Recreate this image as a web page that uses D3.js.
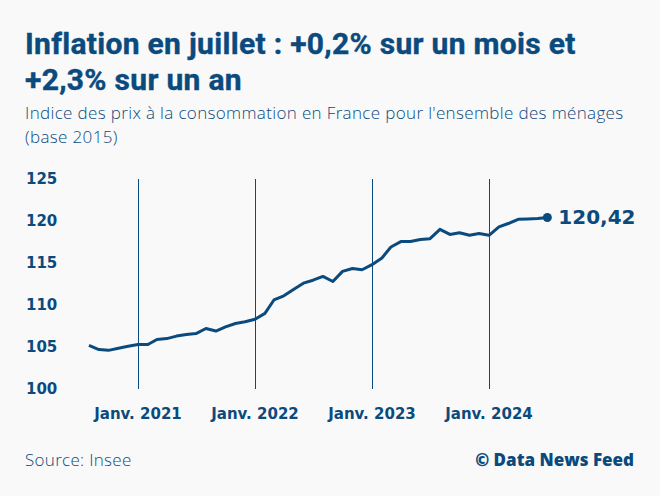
<!DOCTYPE html>
<html>
<head>
<meta charset="utf-8">
<script src="https://cdn.jsdelivr.net/npm/d3@7"></script>
<style>
  body { margin: 0; background: #f9f9f9; }
  svg { display: block; }
</style>
</head>
<body>
<div id="container"></div>
<script>
// monthly consumer price index, base 2015, Aug 2020 -> Jul 2024
var months = d3.timeMonths(new Date(2020, 7, 1), new Date(2024, 7, 1));
var values = [
    105.2, 104.7, 104.6, 104.85, 105.1,
    105.3, 105.3, 105.9, 106.0, 106.3, 106.5, 106.6, 107.2, 106.9, 107.4, 107.8, 108.0,
    108.3, 109.0, 110.6, 111.1, 111.85, 112.6, 112.95, 113.4, 112.8, 114.0, 114.35, 114.2,
    114.8, 115.6, 116.9, 117.55, 117.55, 117.8, 117.9, 119.0, 118.4, 118.6, 118.3, 118.5,
    118.3, 119.3, 119.7, 120.2, 120.25, 120.3, 120.42
];
var yTicks = [100, 105, 110, 115, 120, 125];
var januaries = [new Date(2021, 0, 1), new Date(2022, 0, 1), new Date(2023, 0, 1), new Date(2024, 0, 1)];
var janLabels = ["Janv. 2021", "Janv. 2022", "Janv. 2023", "Janv. 2024"];
var lastLabel = "120,42";

var width = 660;
var height = 496;
var blue = "#0b4a7d";

var svg = d3.select("#container")
    .append("svg")
    .attr("width", width)
    .attr("height", height);

svg.append("rect")
    .attr("width", width)
    .attr("height", height)
    .attr("fill", "#f9f9f9");

// titles
var title = svg.append("text")
    .attr("fill", blue)
    .attr("font-family", "Roboto")
    .attr("font-weight", 700)
    .attr("font-size", 30)
    .attr("letter-spacing", 0.3)
    .attr("stroke", blue)
    .attr("stroke-width", 0.4);
title.append("tspan").attr("x", 25).attr("y", 54).text("Inflation en juillet : +0,2% sur un mois et");
title.append("tspan").attr("x", 25).attr("y", 90).text("+2,3% sur un an");

var sub = svg.append("text")
    .attr("fill", blue)
    .attr("font-family", "Open Sans")
    .attr("font-weight", 300)
    .attr("font-size", 17)
    .attr("letter-spacing", 0.35);
sub.append("tspan").attr("x", 25).attr("y", 119).text("Indice des prix à la consommation en France pour l'ensemble des ménages");
sub.append("tspan").attr("x", 25).attr("y", 143).text("(base 2015)");

// scales
var x = d3.scaleTime()
    .domain([new Date(2021, 0, 1), new Date(2024, 0, 1)])
    .range([138, 489]);

var y = d3.scaleLinear()
    .domain([100, 125])
    .range([389, 179]);

// vertical year lines
svg.selectAll(".yearline")
    .data(januaries)
    .enter()
    .append("line")
    .attr("class", "yearline")
    .attr("x1", d => Math.round(x(d)) + 0.5)
    .attr("x2", d => Math.round(x(d)) + 0.5)
    .attr("y1", y(125))
    .attr("y2", y(100))
    .attr("stroke", blue)
    .attr("stroke-width", 1)
    .attr("shape-rendering", "crispEdges");

// y axis labels
svg.selectAll(".ytick")
    .data(yTicks)
    .enter()
    .append("text")
    .attr("class", "ytick")
    .attr("x", 26)
    .attr("y", d => y(d))
    .attr("dy", "0.35em")
    .attr("fill", blue)
    .attr("font-family", "DejaVu Sans")
    .attr("font-weight", "bold")
    .attr("font-size", 15)
    .text(d => d);

// x axis labels
svg.selectAll(".xtick")
    .data(januaries)
    .enter()
    .append("text")
    .attr("class", "xtick")
    .attr("x", d => x(d))
    .attr("y", 419)
    .attr("text-anchor", "middle")
    .attr("fill", blue)
    .attr("font-family", "DejaVu Sans")
    .attr("font-weight", "bold")
    .attr("font-size", 15)
    .text((d, i) => janLabels[i]);

// the line
var line = d3.line()
    .x((d, i) => x(months[i]))
    .y(d => y(d));

svg.append("path")
    .datum(values)
    .attr("d", line)
    .attr("fill", "none")
    .attr("stroke", blue)
    .attr("stroke-width", 3)
    .attr("stroke-linejoin", "round");

var lastX = x(months[months.length - 1]);
var lastY = y(values[values.length - 1]);

svg.append("circle")
    .attr("cx", lastX)
    .attr("cy", lastY)
    .attr("r", 4.5)
    .attr("fill", blue);

svg.append("text")
    .attr("x", lastX + 11)
    .attr("y", lastY)
    .attr("dy", "0.35em")
    .attr("fill", blue)
    .attr("font-family", "DejaVu Sans")
    .attr("font-weight", "bold")
    .attr("font-size", 20)
    .text(lastLabel);

// footer
svg.append("text")
    .attr("x", 25)
    .attr("y", 466)
    .attr("fill", blue)
    .attr("font-family", "Open Sans")
    .attr("font-weight", 300)
    .attr("font-size", 17)
    .attr("letter-spacing", 0.3)
    .text("Source: Insee");

svg.append("text")
    .attr("x", 634)
    .attr("y", 466)
    .attr("text-anchor", "end")
    .attr("fill", blue)
    .attr("font-family", "Open Sans")
    .attr("font-weight", 800)
    .attr("font-size", 17)
    .text("© Data News Feed");
</script>
</body>
</html>
